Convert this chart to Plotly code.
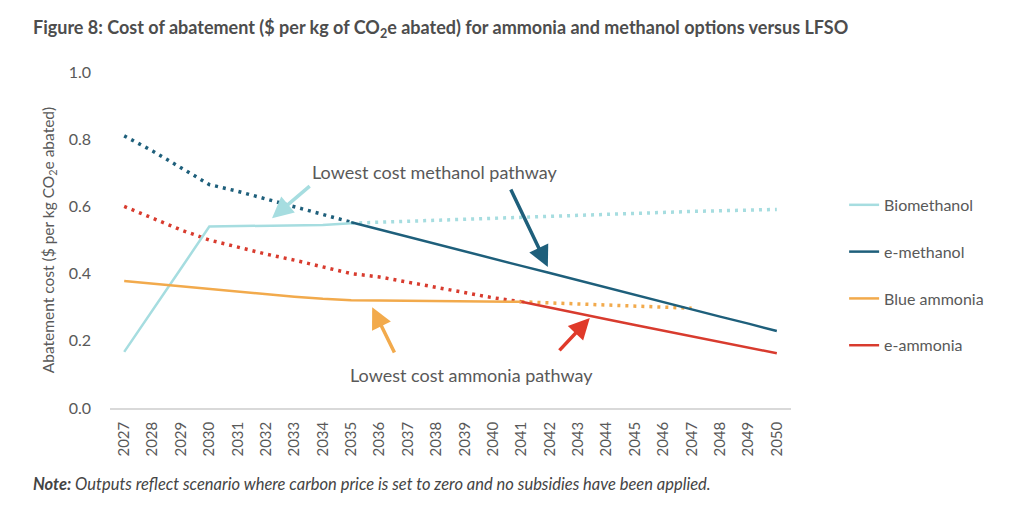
import plotly.graph_objects as go

years = list(range(2027, 2051))

# Values ($ per kg CO2e abated); None = not drawn
biomethanol_solid = [0.167, 0.29, 0.415, 0.54, 0.541, 0.542, 0.543, 0.545, 0.55] + [None] * 15
biomethanol_dot = [None] * 8 + [0.55, 0.553, 0.556, 0.559, 0.562, 0.566, 0.569, 0.571, 0.574,
                                0.577, 0.58, 0.582, 0.585, 0.587, 0.589, 0.591]

emethanol_dot = [0.81, 0.765, 0.715, 0.665, 0.645, 0.622, 0.60, 0.577, 0.553] + [None] * 15
emethanol_solid = [None] * 8 + [0.553, 0.531, 0.51, 0.488, 0.467, 0.445, 0.423, 0.402, 0.38,
                                0.359, 0.337, 0.315, 0.294, 0.272, 0.251, 0.229]

blue_ammonia_solid = [0.378, 0.37, 0.361, 0.353, 0.347, 0.339, 0.331, 0.325, 0.321, 0.32,
                      0.319, 0.318, 0.318, 0.317, 0.316] + [None] * 9
blue_ammonia_dot = [None] * 14 + [0.316, 0.313, 0.31, 0.307, 0.303, 0.30, 0.297] + [None] * 3

eammonia_dot = [0.60, 0.565, 0.53, 0.50, 0.478, 0.458, 0.44, 0.42, 0.40, 0.39, 0.375, 0.36,
                0.345, 0.328, 0.316] + [None] * 9
eammonia_solid = [None] * 14 + [0.316, 0.298, 0.281, 0.264, 0.247, 0.23, 0.213, 0.196, 0.18, 0.163]

names = ["Biomethanol", "e-methanol", "Blue ammonia", "e-ammonia"]
colors = ["#a6dde0", "#1e5f7b", "#f2aa4c", "#d83b2e"]

GRAY = "#595959"
FONT = "Lato"

fig = go.Figure()

series = [
    (names[0], colors[0], biomethanol_solid, biomethanol_dot),
    (names[1], colors[1], emethanol_solid, emethanol_dot),
    (names[2], colors[2], blue_ammonia_solid, blue_ammonia_dot),
    (names[3], colors[3], eammonia_solid, eammonia_dot),
]

for i, (name, col, solid, dot) in enumerate(series):
    fig.add_trace(go.Scatter(x=years, y=dot, mode="lines", name=name,
                             line=dict(color=col, width=3.5, dash="3px,5px"),
                             showlegend=False, hoverinfo="skip", connectgaps=False))
for i, (name, col, solid, dot) in enumerate(series):
    fig.add_trace(go.Scatter(x=years, y=solid, mode="lines", name=name,
                             line=dict(color=col, width=2.5), legendgroup=f"g{i}",
                             showlegend=True, connectgaps=False))

# Arrows (head x,y ; tail ax,ay) in data coordinates
arrows = [
    (2032.21, 0.565, 2033.59, 0.664, colors[0]),
    (2041.93, 0.42, 2040.6, 0.655, colors[1]),
    (2035.74, 0.30, 2036.55, 0.161, "#f2aa4c"),
    (2043.41, 0.268, 2042.29, 0.167, "#e03a2a"),
]
for hx, hy, tx, ty, col in arrows:
    fig.add_annotation(x=hx, y=hy, ax=tx, ay=ty, xref="x", yref="y", axref="x", ayref="y",
                       text="", showarrow=True, arrowhead=2, arrowsize=1.2, arrowwidth=3.5,
                       arrowcolor=col)

fig.add_annotation(x=2037.92, y=0.702, xref="x", yref="y", text="Lowest cost methanol pathway",
                   showarrow=False, font=dict(family=FONT, size=18, color=GRAY))
fig.add_annotation(x=2039.25, y=0.098, xref="x", yref="y", text="Lowest cost ammonia pathway",
                   showarrow=False, font=dict(family=FONT, size=18, color=GRAY))

fig.add_annotation(x=-0.116, y=-0.226, xref="paper", yref="paper", xanchor="left", yanchor="middle",
                   text="<b><i>Note:</i></b><i> Outputs reflect scenario where carbon price is set to zero and no subsidies have been applied.</i>",
                   showarrow=False, font=dict(family=FONT, size=16.5, color="#444444"))

# page body adds an 8px offset, so the figure is 1008x502 with margins shifted by 8px
fig.update_layout(
    width=1008, height=502,
    margin=dict(l=102, r=225, t=64, b=102, autoexpand=False),
    paper_bgcolor="white", plot_bgcolor="white",
    title=dict(text="Figure 8: Cost of abatement ($ per kg of CO<sub>2</sub>e abated) for ammonia and methanol options versus LFSO",
               x=0.0248, xanchor="left", xref="container", y=0.960, yanchor="middle", yref="container",
               font=dict(family=FONT, size=18, color="#4d4d4d", weight="bold")),
    font=dict(family=FONT, color=GRAY),
    legend=dict(x=1.078, xanchor="left", y=0.655, yanchor="top", tracegroupgap=23,
                font=dict(family=FONT, size=16, color=GRAY), bgcolor="rgba(0,0,0,0)"),
    showlegend=True,
)

fig.update_xaxes(range=[2026.5, 2050.5], tickmode="array", tickvals=years,
                 ticktext=[str(y) for y in years], tickangle=-90, automargin=False,
                 showgrid=False, zeroline=False, showline=True, linecolor="#d9d9d9", linewidth=1.5,
                 ticks="", tickfont=dict(family=FONT, size=15, color=GRAY), ticklabelstandoff=6)
fig.update_yaxes(range=[0, 1.0], tickmode="array", tickvals=[0, 0.2, 0.4, 0.6, 0.8, 1.0],
                 ticktext=["0.0", "0.2", "0.4", "0.6", "0.8", "1.0"], automargin=False,
                 showgrid=False, zeroline=False, showline=False, ticks="",
                 tickfont=dict(family=FONT, size=16, color=GRAY), ticklabelstandoff=18,
                 title=dict(text="Abatement cost ($ per kg CO<sub>2</sub>e abated)",
                            font=dict(family=FONT, size=15.5, color=GRAY), standoff=10))

fig.write_html("out.html")
